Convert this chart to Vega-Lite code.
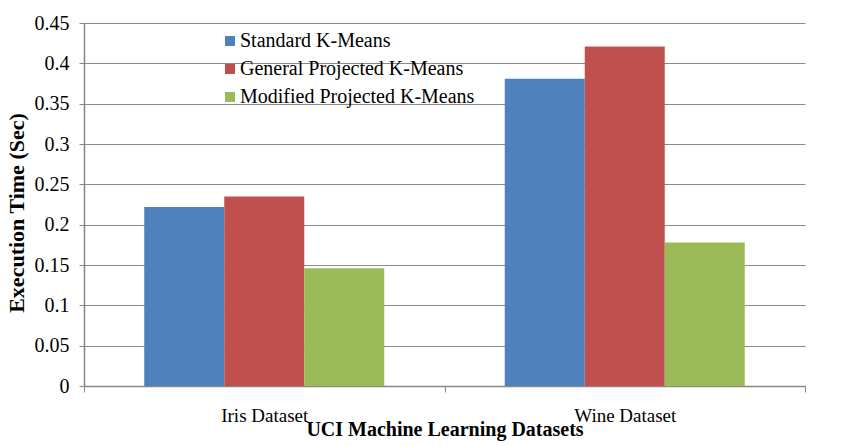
{
  "$schema": "https://vega.github.io/schema/vega-lite/v6.json",
  "autosize": {"type": "none"},
  "padding": {"left": 84, "top": 23, "right": 44, "bottom": 60},
  "width": 721,
  "height": 363,
  "background": "white",
  "data": {
    "values": [
      {"dataset": "Iris Dataset", "method": "Standard K-Means", "time": 0.222},
      {"dataset": "Iris Dataset", "method": "General Projected K-Means", "time": 0.235},
      {"dataset": "Iris Dataset", "method": "Modified Projected K-Means", "time": 0.146},
      {"dataset": "Wine Dataset", "method": "Standard K-Means", "time": 0.381},
      {"dataset": "Wine Dataset", "method": "General Projected K-Means", "time": 0.421},
      {"dataset": "Wine Dataset", "method": "Modified Projected K-Means", "time": 0.178}
    ]
  },
  "mark": {"type": "bar"},
  "encoding": {
    "x": {
      "field": "dataset",
      "type": "nominal",
      "scale": {"paddingInner": 0, "paddingOuter": 0},
      "axis": {
        "title": "UCI Machine Learning Datasets",
        "titleFontSize": 20,
        "titleFontWeight": "bold",
        "titleColor": "black",
        "titleBaseline": "alphabetic",
        "titleY": 49,
        "labelFontSize": 19,
        "labelColor": "black",
        "labelAngle": 0,
        "labelPadding": 14,
        "tickBand": "extent",
        "tickSize": 6,
        "tickColor": "#888888",
        "domainColor": "#888888",
        "domainWidth": 1.5,
        "grid": false
      }
    },
    "xOffset": {
      "field": "method",
      "type": "nominal",
      "sort": ["Standard K-Means", "General Projected K-Means", "Modified Projected K-Means"],
      "scale": {"paddingInner": 0, "paddingOuter": 0.753}
    },
    "y": {
      "field": "time",
      "type": "quantitative",
      "scale": {"domain": [0, 0.45], "nice": false},
      "axis": {
        "title": "Execution Time (Sec)",
        "titleFontSize": 22,
        "titleFontWeight": "bold",
        "titleColor": "black",
        "titleX": -68,
        "titleY": 189.5,
        "titleAlign": "center",
        "titleBaseline": "middle",
        "titleAngle": 270,
        "values": [0, 0.05, 0.1, 0.15, 0.2, 0.25, 0.3, 0.35, 0.4, 0.45],
        "format": ".2~f",
        "labelFontSize": 20,
        "labelColor": "black",
        "labelPadding": 10,
        "tickSize": 5,
        "tickColor": "#888888",
        "domainColor": "#888888",
        "domainWidth": 1.5,
        "gridColor": "#8a8a8a",
        "gridWidth": 1.2
      }
    },
    "color": {
      "field": "method",
      "type": "nominal",
      "sort": ["Standard K-Means", "General Projected K-Means", "Modified Projected K-Means"],
      "scale": {
        "domain": ["Standard K-Means", "General Projected K-Means", "Modified Projected K-Means"],
        "range": ["#4F81BD", "#C0504D", "#9BBB59"]
      },
      "legend": {
        "title": null,
        "orient": "none",
        "legendX": 136,
        "legendY": 8,
        "padding": 0,
        "symbolType": "square",
        "symbolSize": 100,
        "symbolStrokeWidth": 0,
        "labelFontSize": 20,
        "labelColor": "black",
        "labelOffset": 0,
        "rowPadding": 8,
        "labelLimit": 400
      }
    }
  },
  "config": {
    "font": "Liberation Serif",
    "axis": {"labelFont": "Liberation Serif", "titleFont": "Liberation Serif"},
    "legend": {"labelFont": "Liberation Serif"},
    "view": {"stroke": null}
  }
}
